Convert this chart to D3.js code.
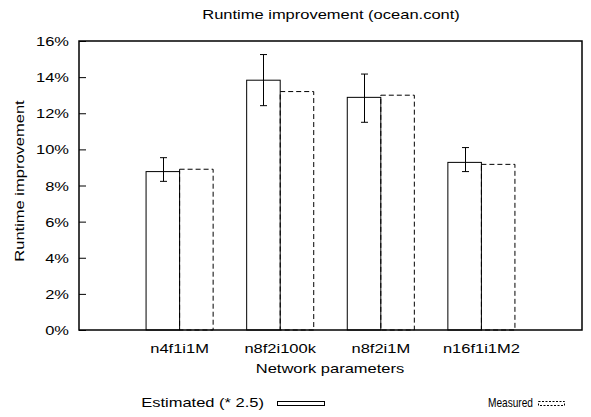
<!DOCTYPE html>
<html>
<head>
<meta charset="utf-8">
<script src="https://cdn.jsdelivr.net/npm/d3@7"></script>
<style>
  body { margin: 0; background: #fff; }
  svg { font-family: "Liberation Sans", Arial, sans-serif; }
  text { fill: #000; font-size: 13px; }
</style>
</head>
<body>
<svg width="591" height="417"></svg>
<script>
// data
const categories = ["n4f1i1M", "n8f2i100k", "n8f2i1M", "n16f1i1M2"];
const estimated = [8.77, 13.83, 12.88, 9.28];
const errLow = [8.23, 12.42, 11.5, 8.77];
const errHigh = [9.54, 15.25, 14.17, 10.1];
const measured = [8.9, 13.2, 13.0, 9.17];
const yTicks = [0, 2, 4, 6, 8, 10, 12, 14, 16];

const svg = d3.select('svg');
const plotLeft = 79, plotRight = 582, plotTop = 41, plotBottom = 330;
const stretch = 1.27; // the source font is drawn wide

// gnuplot style x: categories sit at 1..4 on a 0..5 range
const xScale = d3.scaleLinear().domain([0, 5]).range([plotLeft, plotRight]);
const yScale = d3.scaleLinear().domain([0, 16]).range([plotBottom, plotTop]);
const bw = (xScale(1) - xScale(0)) / 3;

function label(x, y, str, anchor, rot, sx) {
  return svg.append('text')
    .attr('transform', `${rot ? 'rotate(-90) ' : ''}translate(${x},${y}) scale(${sx || stretch},1)`)
    .attr('text-anchor', anchor || 'middle')
    .text(str);
}

// y axis, ticks pointing in
const yAxis = svg.append('g')
  .attr('transform', `translate(${plotLeft},0)`)
  .call(d3.axisLeft(yScale).tickValues(yTicks).tickSize(-7).tickFormat(d => d + '%'));
yAxis.select('.domain').remove();
yAxis.selectAll('line').attr('stroke', '#000');
yAxis.selectAll('text')
  .attr('x', 0)
  .attr('dy', '0.35em')
  .attr('transform', `translate(-10,0) scale(${stretch},1)`)
  .attr('font-size', 13).attr('font-family', null).attr('fill', '#000');

// category labels
categories.forEach((c, i) => label(xScale(i + 1), 353, c));

const bars = svg.append('g');

// estimated bars (solid)
bars.selectAll('.est')
  .data(estimated)
  .enter()
  .append('rect')
  .attr('class', 'est')
  .attr('x', (d, i) => xScale(i + 1) - bw)
  .attr('y', d => yScale(d))
  .attr('width', bw)
  .attr('height', d => plotBottom - yScale(d))
  .attr('fill', 'none')
  .attr('stroke', '#000')
  .attr('stroke-width', 1);

// measured bars (dashed)
bars.selectAll('.meas')
  .data(measured)
  .enter()
  .append('rect')
  .attr('class', 'meas')
  .attr('x', (d, i) => xScale(i + 1))
  .attr('y', d => yScale(d))
  .attr('width', bw)
  .attr('height', d => plotBottom - yScale(d))
  .attr('fill', 'none')
  .attr('stroke', '#000')
  .attr('stroke-width', 1)
  .attr('stroke-dasharray', '5,3');

// error bars on the estimated bars
const err = svg.append('g').attr('stroke', '#000').attr('stroke-width', 1);
estimated.forEach((d, i) => {
  const cx = Math.round(xScale(i + 1) - bw / 2) + 0.5;
  err.append('line').attr('x1', cx).attr('x2', cx).attr('y1', yScale(errLow[i])).attr('y2', yScale(errHigh[i]));
  err.append('line').attr('x1', cx - 3.5).attr('x2', cx + 3.5).attr('y1', yScale(errLow[i])).attr('y2', yScale(errLow[i]));
  err.append('line').attr('x1', cx - 3.5).attr('x2', cx + 3.5).attr('y1', yScale(errHigh[i])).attr('y2', yScale(errHigh[i]));
});

// frame
svg.append('rect')
  .attr('x', plotLeft)
  .attr('y', plotTop)
  .attr('width', plotRight - plotLeft)
  .attr('height', plotBottom - plotTop)
  .attr('fill', 'none')
  .attr('stroke', '#000')
  .attr('stroke-width', 1.5);

// titles
label(331, 18.5, 'Runtime improvement (ocean.cont)');
label(330, 373, 'Network parameters');
label(-181, 24, 'Runtime improvement', 'middle', true);

// legend (the measured entry is squeezed in the source)
const legend = [
  { label: 'Estimated (* 2.5)', x: 264, gap: 13, w: 47, sx: stretch, dash: null },
  { label: 'Measured', x: 533, gap: 5, w: 26, sx: 0.78, dash: '2,1.5' }
];
legend.forEach(l => {
  label(l.x, 406.5, l.label, 'end', false, l.sx);
  svg.append('rect')
    .attr('x', l.x + l.gap + 0.5)
    .attr('y', 401.5)
    .attr('width', l.w)
    .attr('height', 4)
    .attr('fill', 'none')
    .attr('stroke', '#000')
    .attr('stroke-width', 1)
    .attr('stroke-dasharray', l.dash);
});
</script>
</body>
</html>
